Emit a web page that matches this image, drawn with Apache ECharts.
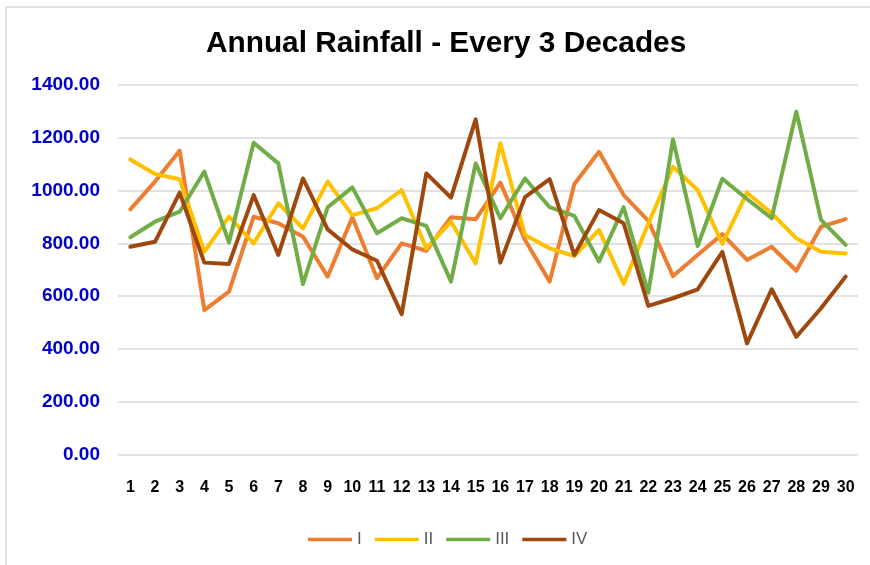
<!DOCTYPE html>
<html>
<head>
<meta charset="utf-8">
<script src="https://cdn.jsdelivr.net/npm/echarts@6/dist/echarts.min.js"></script>
<style>html,body{margin:0;padding:0;background:#fff}#c{width:870px;height:565px}</style>
</head>
<body>
<div id="c"></div>
<script>
const categories = ['1','2','3','4','5','6','7','8','9','10','11','12','13','14','15','16','17','18','19','20','21','22','23','24','25','26','27','28','29','30'];
const seriesNames = ['I','II','III','IV'];
const seriesI   = [929,1034,1151,547,617,901,876,825,674,899,668,800,772,899,891,1030,813,655,1025,1147,983,885,676,756,835,737,787,696,863,892];
const seriesII  = [1118,1063,1043,768,901,800,952,857,1034,907,933,1002,781,882,724,1179,832,781,752,851,646,875,1090,1002,798,992,914,819,768,762];
const seriesIII = [823,882,920,1072,803,1181,1103,646,937,1012,838,895,866,655,1103,895,1046,937,904,731,937,613,1194,790,1045,968,895,1299,889,794];
const seriesIV  = [787,806,992,727,722,983,756,1046,853,777,734,532,1065,973,1270,727,975,1043,756,926,876,563,592,626,768,421,626,446,554,674];
const colors = ['#ED7D31','#FFC000','#70AD47','#9E480E'];
const yTicks = [0,200,400,600,800,1000,1200,1400];

const chart = echarts.init(document.getElementById('c'), null, {renderer:'canvas'});
const allData = [seriesI, seriesII, seriesIII, seriesIV];
chart.setOption({
  animation:false,
  backgroundColor:'#fff',
  graphic:[{type:'rect', shape:{x:6,y:7,width:900,height:600}, style:{fill:'none', stroke:'#D9D9D9', lineWidth:1.5}, silent:true, z:-1}],
  title:{text:'Annual Rainfall - Every 3 Decades', left:201, top:24,
    textStyle:{fontFamily:'Liberation Sans, Arial, sans-serif', fontWeight:'bold', fontSize:29.8, color:'#000'}},
  grid:{left:118, right:12, top:85, bottom:110.5, containLabel:false},
  legend:{data:seriesNames.map(n=>({name:n, icon:'rect'})), bottom:12, left:303, itemWidth:44, itemHeight:3.5, itemGap:13,
    textStyle:{fontFamily:'Liberation Sans, Arial, sans-serif', fontSize:17, color:'#595959'}},
  xAxis:{type:'category', data:categories, boundaryGap:true,
    axisLine:{show:false}, axisTick:{show:false},
    axisLabel:{interval:0, margin:25, fontFamily:'Liberation Sans, Arial, sans-serif', fontWeight:'bold', fontSize:16, color:'#000'}},
  yAxis:{type:'value', min:yTicks[0], max:yTicks[yTicks.length-1], interval:200,
    axisLine:{show:false}, axisTick:{show:false},
    splitLine:{lineStyle:{color:'#D9D9D9', width:1.5}},
    axisLabel:{margin:18, fontFamily:'Liberation Sans, Arial, sans-serif', fontWeight:'bold', fontSize:19, color:'#0000CC',
      formatter:v=>v.toFixed(2)}},
  series: seriesNames.map((n,i)=>({name:n, type:'line', data:allData[i], symbol:'none',
    lineStyle:{color:colors[i], width:4, cap:'round', join:'round'}, itemStyle:{color:colors[i]}}))
});
</script>
</body>
</html>
